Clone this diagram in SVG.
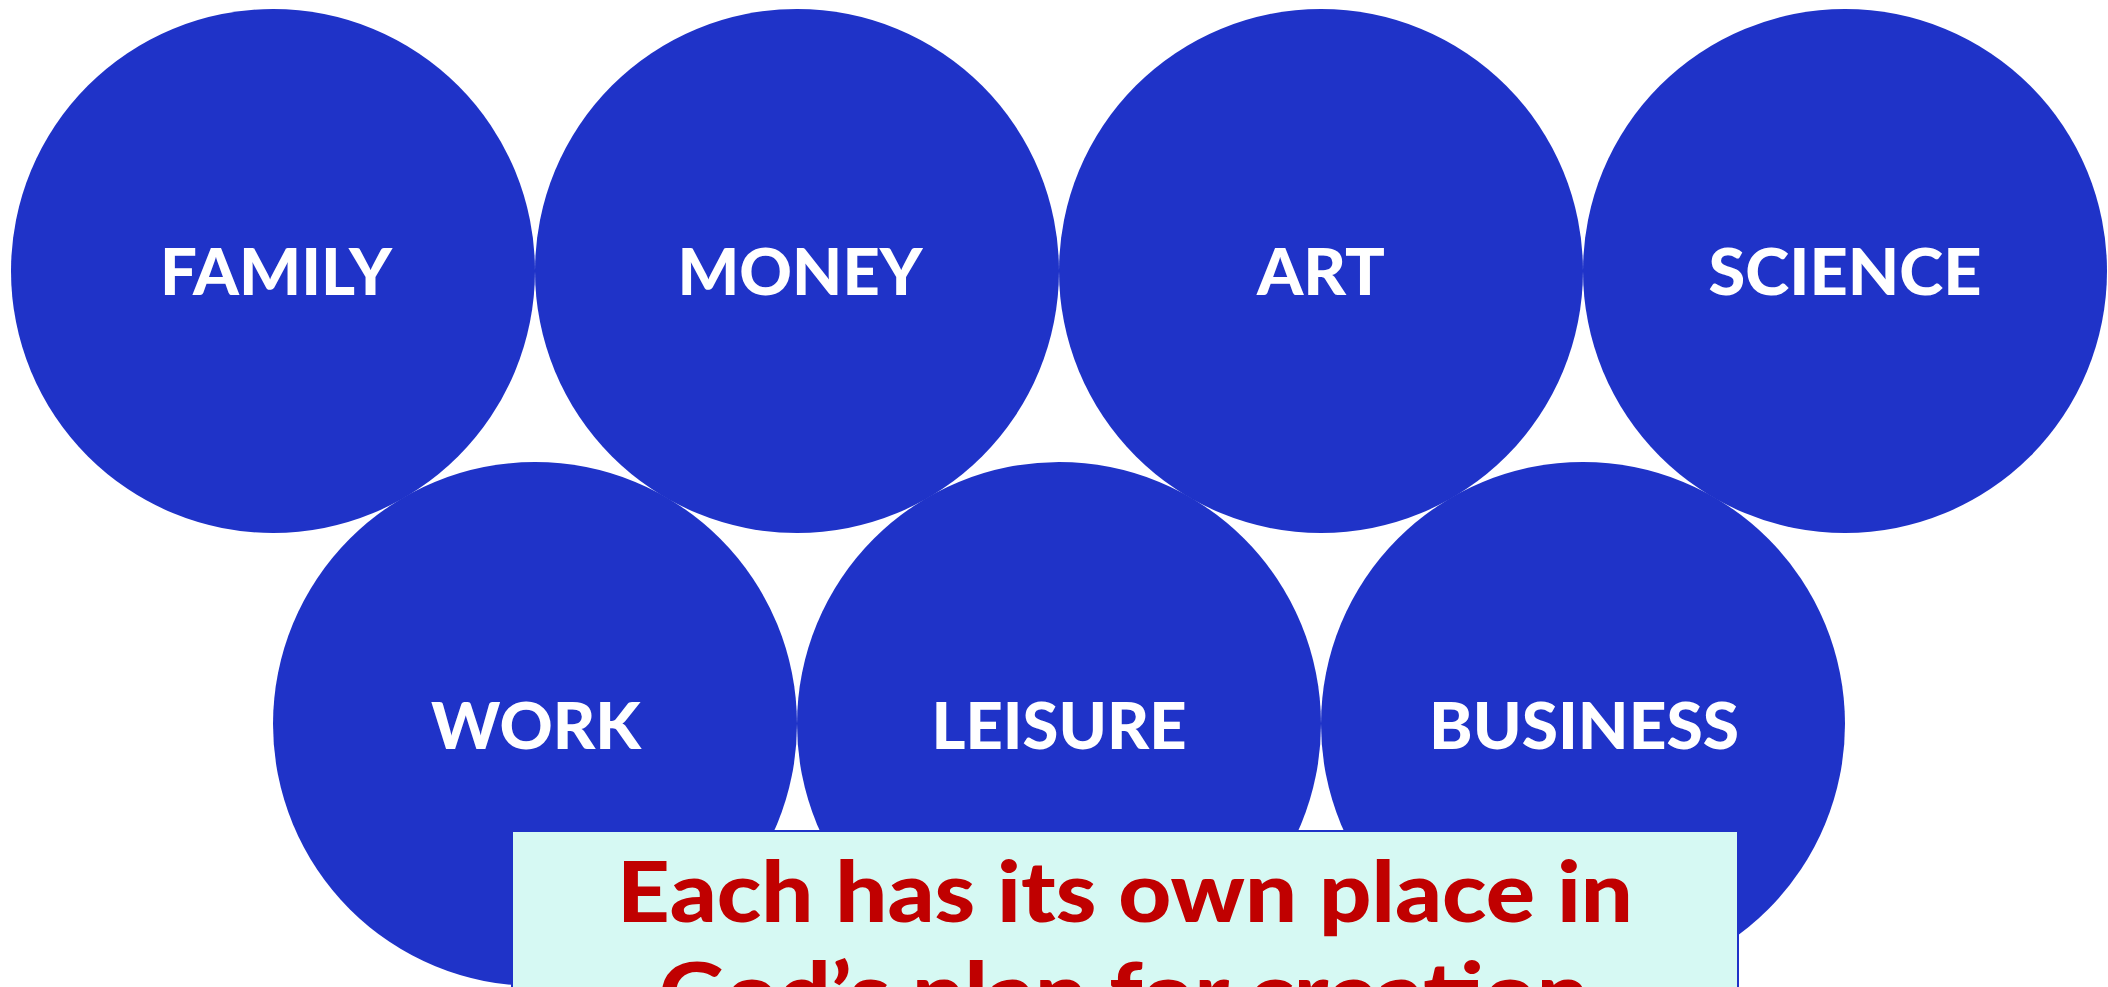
<svg xmlns="http://www.w3.org/2000/svg" width="2108" height="987" viewBox="0 0 2108 987">
  <style>
    .c { fill: #1F33C8; }
    .lbl { font-family: Lato, "Liberation Sans", sans-serif; font-weight: 900; font-size: 64px; fill: #FFFFFF; text-anchor: middle; }
    .msg { font-family: Lato, "Liberation Sans", sans-serif; font-weight: 900; font-size: 84px; fill: #C00000; text-anchor: middle; }
  </style>
  <rect x="0" y="0" width="2108" height="987" fill="#FFFFFF"/>
  <g id="family"><circle class="c" cx="273" cy="271" r="262"/><text class="lbl" x="276" y="295" textLength="232" lengthAdjust="spacingAndGlyphs">FAMILY</text></g>
  <g id="money"><circle class="c" cx="797" cy="271" r="262"/><text class="lbl" x="800" y="295" textLength="245" lengthAdjust="spacingAndGlyphs">MONEY</text></g>
  <g id="art"><circle class="c" cx="1321" cy="271" r="262"/><text class="lbl" x="1321" y="295" textLength="128" lengthAdjust="spacingAndGlyphs">ART</text></g>
  <g id="science"><circle class="c" cx="1845" cy="271" r="262"/><text class="lbl" x="1845" y="295" textLength="273" lengthAdjust="spacingAndGlyphs">SCIENCE</text></g>
  <g id="work"><circle class="c" cx="535" cy="724" r="262"/><text class="lbl" x="536" y="749" textLength="210" lengthAdjust="spacingAndGlyphs">WORK</text></g>
  <g id="leisure"><circle class="c" cx="1059" cy="724" r="262"/><text class="lbl" x="1059" y="749" textLength="255" lengthAdjust="spacingAndGlyphs">LEISURE</text></g>
  <g id="business"><circle class="c" cx="1583" cy="724" r="262"/><text class="lbl" x="1584" y="749" textLength="310" lengthAdjust="spacingAndGlyphs">BUSINESS</text></g>
  <g id="message">
    <rect x="512" y="831" width="1226" height="180" fill="#D6F9F3" stroke="#1F33C8" stroke-width="2"/>
    <text class="msg" x="1125" y="922" textLength="1016" lengthAdjust="spacingAndGlyphs">Each has its own place in</text>
    <text class="msg" x="1124" y="1023" textLength="930" lengthAdjust="spacingAndGlyphs">God’s plan for creation</text>
  </g>
  <g id="connectors"/>
</svg>
